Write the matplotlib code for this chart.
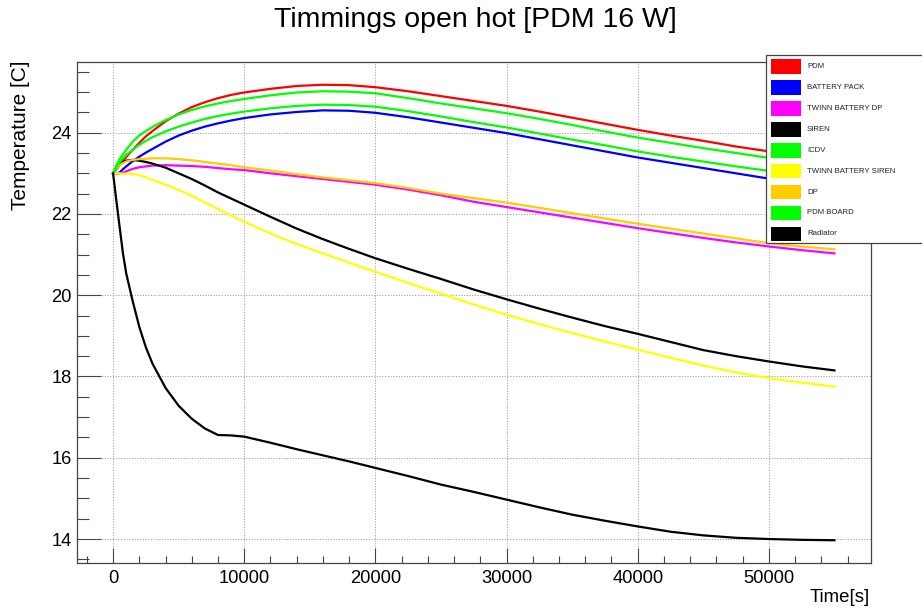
import matplotlib
matplotlib.use("Agg")
import matplotlib.pyplot as plt
from matplotlib.patches import Rectangle
from matplotlib.ticker import MultipleLocator

plt.rcParams['font.family'] = ['Liberation Sans', 'DejaVu Sans']

# Time axis (seconds) shared by all probes
time_s = [0, 250, 500, 750, 1000, 1500, 2000, 2500, 3000, 4000, 5000, 6000, 7000,
          8000, 9000, 10000, 12000, 14000, 16000, 18000, 20000, 22500, 25000, 27500,
          30000, 32500, 35000, 37500, 40000, 42500, 45000, 47500, 50000, 52500, 55000]

# Temperatures [C]
pdm = [23.0, 23.1, 23.2, 23.3, 23.4, 23.58, 23.75, 23.91, 24.04, 24.28, 24.47, 24.63, 24.75,
       24.85, 24.93, 24.99, 25.08, 25.15, 25.18, 25.17, 25.12, 25.02, 24.9, 24.78,
       24.66, 24.52, 24.37, 24.22, 24.07, 23.93, 23.8, 23.66, 23.54, 23.43, 23.33]
battery_pack = [23.0, 23.0, 23.02, 23.1, 23.17, 23.3, 23.41, 23.51, 23.6, 23.78, 23.93, 24.05, 24.15,
                24.23, 24.3, 24.36, 24.45, 24.51, 24.55, 24.54, 24.49, 24.38, 24.25, 24.12,
                23.99, 23.84, 23.69, 23.54, 23.39, 23.26, 23.13, 23.0, 22.87, 22.76, 22.66]
twinn_battery_dp = [23.0, 23.0, 23.0, 23.01, 23.05, 23.11, 23.15, 23.17, 23.19, 23.2, 23.19, 23.18, 23.16,
                    23.13, 23.1, 23.08, 23.0, 22.93, 22.86, 22.79, 22.72, 22.6, 22.46, 22.3,
                    22.17, 22.04, 21.91, 21.78, 21.65, 21.53, 21.41, 21.3, 21.2, 21.11, 21.03]
siren = [23.0, 23.12, 23.22, 23.28, 23.31, 23.33, 23.31, 23.28, 23.24, 23.14, 23.0, 22.86, 22.7,
         22.53, 22.38, 22.23, 21.93, 21.64, 21.38, 21.14, 20.91, 20.65, 20.4, 20.14,
         19.9, 19.67, 19.45, 19.24, 19.05, 18.85, 18.65, 18.5, 18.37, 18.25, 18.15]
icdv = [23.0, 23.2, 23.35, 23.47, 23.58, 23.78, 23.93, 24.04, 24.14, 24.31, 24.45, 24.56, 24.65,
        24.72, 24.78, 24.83, 24.92, 24.99, 25.02, 25.01, 24.97, 24.85, 24.72, 24.6,
        24.48, 24.34, 24.19, 24.03, 23.88, 23.75, 23.62, 23.5, 23.38, 23.27, 23.17]
twinn_battery_siren = [23.0, 23.0, 23.0, 22.99, 22.99, 22.98, 22.96, 22.9, 22.84, 22.72, 22.59, 22.45, 22.28,
                       22.12, 21.96, 21.81, 21.52, 21.26, 21.03, 20.8, 20.58, 20.3, 20.04, 19.77,
                       19.52, 19.29, 19.07, 18.86, 18.66, 18.46, 18.27, 18.1, 17.96, 17.85, 17.75]
dp = [23.0, 23.12, 23.2, 23.25, 23.29, 23.33, 23.35, 23.36, 23.37, 23.37, 23.35, 23.32, 23.28,
      23.24, 23.2, 23.15, 23.07, 22.98, 22.9, 22.83, 22.76, 22.64, 22.5, 22.39,
      22.28, 22.15, 22.02, 21.89, 21.76, 21.64, 21.52, 21.4, 21.28, 21.2, 21.13]
pdm_board = [23.0, 23.15, 23.27, 23.37, 23.45, 23.58, 23.7, 23.8, 23.89, 24.03, 24.15, 24.25, 24.34,
             24.41, 24.47, 24.52, 24.6, 24.66, 24.69, 24.68, 24.64, 24.53, 24.4, 24.26,
             24.13, 23.98, 23.83, 23.69, 23.54, 23.41, 23.29, 23.17, 23.06, 22.96, 22.87]
radiator = [23.0, 22.33, 21.68, 21.04, 20.54, 19.85, 19.22, 18.72, 18.32, 17.72, 17.28, 16.96, 16.72,
            16.56, 16.55, 16.52, 16.37, 16.21, 16.06, 15.91, 15.75, 15.55, 15.34, 15.16,
            14.97, 14.78, 14.6, 14.45, 14.31, 14.18, 14.09, 14.03, 14.0, 13.98, 13.97]

labels = ["PDM", "BATTERY PACK", "TWINN BATTERY DP", "SIREN", "ICDV",
          "TWINN BATTERY SIREN", "DP", "PDM BOARD", "Radiator"]
series = [pdm, battery_pack, twinn_battery_dp, siren, icdv,
          twinn_battery_siren, dp, pdm_board, radiator]
colors = ["#ff0000", "#0000ff", "#ff00ff", "#000000", "#00ff00",
          "#ffff00", "#ffcc00", "#00ff00", "#000000"]

W, H = 922, 611
fig = plt.figure(figsize=(W / 100, H / 100), dpi=100)
fig.patch.set_facecolor("white")

ax_l, ax_r, ax_t, ax_b = 77, 870.5, 62, 563
ax = fig.add_axes([ax_l / W, 1 - ax_b / H, (ax_r - ax_l) / W, (ax_b - ax_t) / H])

for vals, col in zip(series, colors):
    ax.plot(time_s, vals, color=col, lw=1.6, solid_joinstyle="round")

ax.set_xlim(-2750, 57750)
ax.set_ylim(13.41, 25.74)

ax.xaxis.set_major_locator(MultipleLocator(10000))
ax.xaxis.set_minor_locator(MultipleLocator(2000))
ax.yaxis.set_major_locator(MultipleLocator(2))
ax.yaxis.set_minor_locator(MultipleLocator(0.5))

frame_col = "#444444"
ax.tick_params(axis="x", which="major", direction="in", length=10.8, width=0.8,
               color=frame_col, labelsize=13.2, pad=5, top=False)
ax.tick_params(axis="x", which="minor", direction="in", length=5.4, width=0.8,
               color=frame_col, top=False)
ax.tick_params(axis="y", which="major", direction="in", length=17.2, width=0.8,
               color=frame_col, labelsize=13.2, pad=4, right=False)
ax.tick_params(axis="y", which="minor", direction="in", length=8.6, width=0.8,
               color=frame_col, right=False)
for sp in ax.spines.values():
    sp.set_color(frame_col)
    sp.set_linewidth(0.9)

ax.grid(True, which="major", color="#a0a0a0", linestyle=(0, (1.2, 1.6)), linewidth=0.7)
ax.set_axisbelow(True)

fig.text(475 / W, 1 - 20 / H, "Timmings open hot [PDM 16 W]", ha="center", va="center",
         fontsize=20.5)
fig.text(20 / W, 1 - 60 / H, "Temperature [C]", rotation=90, ha="center", va="top",
         fontsize=15)
fig.text(870 / W, 1 - 597 / H, "Time[s]", ha="right", va="center", fontsize=13.4)

# Legend box
lg_l, lg_t, lg_b = 765.5, 55, 243
fig.patches.append(Rectangle((lg_l / W, 1 - lg_b / H), (W + 10 - lg_l) / W, (lg_b - lg_t) / H,
                             transform=fig.transFigure, facecolor="white",
                             edgecolor=frame_col, linewidth=0.9, zorder=5))
row_h = 20.9
for i, (lab, col) in enumerate(zip(labels, colors)):
    cy = 66.7 + row_h * i
    fig.patches.append(Rectangle((771 / W, 1 - (cy + 7.3) / H), 30 / W, 14.6 / H,
                                 transform=fig.transFigure, facecolor=col,
                                 edgecolor="none", zorder=6))
    fig.text(807 / W, 1 - cy / H, lab, ha="left", va="center", fontsize=5.6,
             color="#222222", zorder=7)

fig.savefig("out.png", dpi=100, facecolor="white")
